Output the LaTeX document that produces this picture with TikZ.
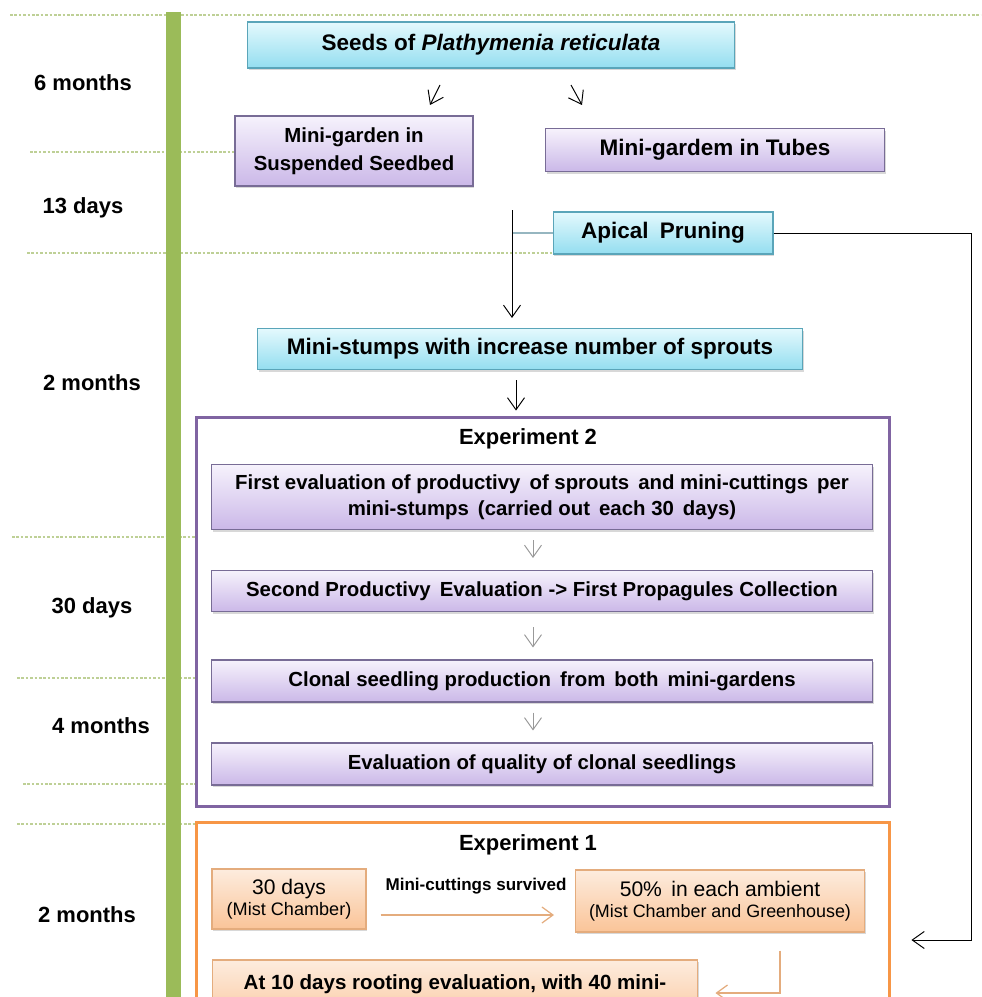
\documentclass[tikz,border=0pt]{standalone}
\usepackage{fontspec}
\setmainfont{Liberation Sans}
\usetikzlibrary{arrows.meta,shadows}

\definecolor{barGreen}{RGB}{155,187,89}
\definecolor{dashGreen}{RGB}{190,208,150}
\definecolor{cyanLine}{RGB}{90,165,185}
\definecolor{cyanTop}{RGB}{228,249,253}
\definecolor{cyanBot}{RGB}{148,222,240}
\definecolor{lilacLine}{RGB}{120,108,150}
\definecolor{lilacTop}{RGB}{246,242,252}
\definecolor{lilacBot}{RGB}{203,184,232}
\definecolor{peachLine}{RGB}{228,172,125}
\definecolor{peachTop}{RGB}{253,236,222}
\definecolor{peachBot}{RGB}{250,196,152}
\definecolor{expTwoLine}{RGB}{128,100,162}
\definecolor{expOneLine}{RGB}{247,150,70}
\definecolor{linkGray}{RGB}{150,182,192}

\begin{document}
\begin{tikzpicture}[x=0.02cm,y=-0.02cm,
    stage/.style={font=\bfseries\fontsize{12.5}{15}\selectfont},
    sepline/.style={dashGreen,line width=0.6pt,dash pattern=on 1.5pt off 1pt},
    box/.style={draw,line width=0.6pt,align=center,inner sep=2pt,
      drop shadow={opacity=0.3,shadow xshift=0.6pt,shadow yshift=-1.4pt}},
    cyanbox/.style={box,draw=cyanLine,top color=cyanTop,bottom color=cyanBot,
      font=\bfseries\fontsize{12.8}{16}\selectfont},
    lilacbox/.style={box,draw=lilacLine,top color=lilacTop,bottom color=lilacBot,
      font=\bfseries\fontsize{12.8}{16}\selectfont},
    innerbox/.style={lilacbox,minimum width=13.22cm,
      font=\bfseries\fontsize{11.6}{15}\selectfont},
    peachbox/.style={box,draw=peachLine,top color=peachTop,bottom color=peachBot,
      font=\fontsize{12}{13}\selectfont},
    frame/.style={draw,line width=1.7pt,fill=white,inner sep=0pt},
    arr/.style={-{Straight Barb[length=2.4mm,width=3.4mm]},line width=0.55pt},
    grayarr/.style={arr,gray!80},
    peacharr/.style={-{Straight Barb[length=2.2mm,width=3.2mm]},line width=0.7pt,peachLine}
  ]
  \clip (0,0) rectangle (981,997);
  \fill[white] (0,0) rectangle (981,997);
  %
  % time axis
  \draw[sepline] (10,15) -- (981,15);
  \draw[sepline] (30,152) -- (235,152);
  \draw[sepline] (27,253) -- (553,253);
  \draw[sepline] (12,537) -- (212,537);
  \draw[sepline] (17,678) -- (212,678);
  \draw[sepline] (23,784) -- (212,784);
  \draw[sepline] (17,824) -- (196,824);
  \fill[barGreen] (166,12) rectangle (181,997);
  %
  \node[stage] (tsix) at (83,83) {6 months};
  \node[stage] (tthirteen) at (83,208) {13 days};
  \node[stage] (ttwo) at (92,383) {2 months};
  \node[stage] (tthirty) at (92,608) {30 days};
  \node[stage] (tfour) at (101,726) {4 months};
  \node[stage] (ttwob) at (87,915) {2 months};
  %
  % seeds and mini-gardens
  \node[cyanbox,minimum width=9.74cm,minimum height=0.92cm] (seeds) at (491,45)
    {Seeds of \textit{Plathymenia reticulata}};
  \node[lilacbox,minimum width=4.76cm,minimum height=1.4cm,
    font=\bfseries\fontsize{11.6}{16}\selectfont] (garden) at (354,151)
    {Mini-garden in\\Suspended Seedbed};
  \node[lilacbox,minimum width=6.78cm,minimum height=0.86cm] (tubes) at (715,150)
    {Mini-gardem in Tubes};
  \node[cyanbox,minimum width=4.4cm,minimum height=0.84cm] (pruning) at (663,233)
    {Apical\enspace Pruning};
  \node[cyanbox,minimum width=10.9cm,minimum height=0.82cm] (stumps) at (530,349)
    {Mini-stumps with increase number of sprouts};
  %
  \coordinate (sgA) at (440,85);
  \coordinate (sgB) at (430,105);
  \coordinate (stA) at (571,85);
  \coordinate (stB) at (582,105);
  \draw[arr] (sgA) -- (sgB);
  \draw[arr] (stA) -- (stB);
  %
  \coordinate (prtop) at (512,210);
  \draw[linkGray,line width=1.2pt] (pruning.west) -- (pruning.west -| prtop);
  \draw[arr,shorten >=0.2cm] (prtop) -- (prtop |- stumps.north);
  %
  % experiment 2
  \node[frame,draw=expTwoLine,minimum width=13.88cm,minimum height=7.8cm] (exptwo) at (543,612) {};
  \node[font=\bfseries\fontsize{12.5}{15}\selectfont] (exptwotitle) at (528,439) {Experiment 2};
  \coordinate (midx) at (516,0);
  \draw[arr,shorten <=0.2cm,shorten >=0.1cm] (stumps.south -| midx) -- (exptwo.north -| midx);
  %
  \node[innerbox,minimum height=1.3cm] (evalone) at (542,497)
    {First evaluation of productivy\, of sprouts\, and mini-cuttings\, per\\
     mini-stumps\, (carried out\, each 30\, days)};
  \node[innerbox,minimum height=0.82cm] (evaltwo) at (542,591)
    {Second Productivy\, Evaluation -> First Propagules Collection};
  \node[innerbox,minimum height=0.84cm] (clonal) at (542,681)
    {Clonal seedling production\, from\, both\, mini-gardens};
  \node[innerbox,minimum height=0.84cm] (quality) at (542,764)
    {Evaluation of quality of clonal seedlings};
  %
  \coordinate (ax) at (533,0);
  \draw[grayarr,shorten <=0.2cm,shorten >=0.24cm] (evalone.south -| ax) -- (evaltwo.north -| ax);
  \draw[grayarr,shorten <=0.3cm,shorten >=0.24cm] (evaltwo.south -| ax) -- (clonal.north -| ax);
  \draw[grayarr,shorten <=0.2cm,shorten >=0.24cm] (clonal.south -| ax) -- (quality.north -| ax);
  %
  % experiment 1
  \node[frame,draw=expOneLine,minimum width=13.88cm,minimum height=5.56cm] (expone) at (543,961) {};
  \node[font=\bfseries\fontsize{12.5}{15}\selectfont] (exponetitle) at (528,845) {Experiment 1};
  \node[peachbox,minimum width=3.08cm,minimum height=1.2cm] (thirty) at (289,899)
    {30 days\\[-1pt]{\fontsize{10.3}{11}\selectfont(Mist Chamber)}};
  \node[peachbox,minimum width=5.78cm,minimum height=1.24cm] (fifty) at (720,901)
    {50\%\, in each ambient\\[-1pt]{\fontsize{10.2}{11}\selectfont(Mist Chamber and Greenhouse)}};
  \node[peachbox,minimum width=9.72cm,minimum height=1.4cm,
    font=\bfseries\fontsize{11.7}{15}\selectfont] (tendays) at (455,995)
    {At 10 days rooting evaluation, with 40 mini-\\\mbox{}};
  \node[font=\bfseries\fontsize{9.7}{11}\selectfont] (survived) at (476,886) {Mini-cuttings survived};
  %
  \coordinate (survy) at (0,915);
  \draw[peacharr,shorten <=0.28cm,shorten >=0.42cm] (thirty.east |- survy) -- (fifty.west |- survy);
  \coordinate (fdrop) at (780,993);
  \draw[peacharr,shorten <=0.36cm,shorten >=0.34cm] (fifty.south -| fdrop) -- (fdrop) -- (fdrop -| tendays.east);
  %
  % pruning feeds experiment 1
  \coordinate (rt) at (971,940);
  \draw[arr,shorten >=0.4cm] (pruning.east) -| (rt) -- (rt -| expone.east);
\end{tikzpicture}
\end{document}
